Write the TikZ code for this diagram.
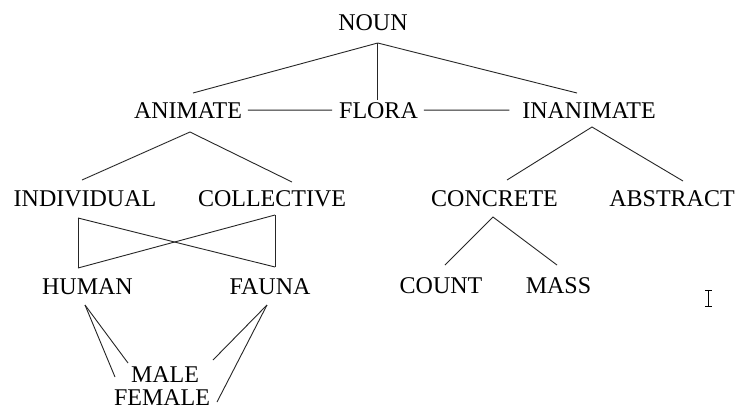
\documentclass[tikz,border=0pt]{standalone}
\usepackage{fontspec}
\setmainfont{Liberation Serif}
\begin{document}
\begin{tikzpicture}[x=1pt,y=-1pt,
  term/.style={inner sep=0pt,outer sep=0pt,anchor=base,text=black,
    font=\fontsize{24}{28}\selectfont},
  link/.style={draw=black!85,line width=0.9pt}]
\path[use as bounding box,fill=white] (0,0) rectangle (742,410);

% terms of the noun hierarchy
\node[term] (noun)       at (373,30)    {NOUN};
\node[term] (animate)    at (188,118)   {ANIMATE};
\node[term] (flora)      at (378.5,118) {FLORA};
\node[term] (inanimate)  at (589,118)   {INANIMATE};
\node[term] (individual) at (85,206)    {INDIVIDUAL};
\node[term] (collective) at (272,206)   {COLLECTIVE};
\node[term] (concrete)   at (494.5,206) {CONCRETE};
\node[term] (abstract)   at (672,206)   {ABSTRACT};
\node[term] (human)      at (87.5,294)  {HUMAN};
\node[term] (fauna)      at (270,294)   {FAUNA};
\node[term] (count)      at (441,293)   {COUNT};
\node[term] (mass)       at (558.5,293) {MASS};
\node[term] (male)       at (165,382)   {MALE};
\node[term] (female)     at (162,405.5) {FEMALE};

% NOUN branches
\draw[link] ([shift={(4.7,13)}]noun.base) -- ([shift={(5,-25)}]animate.base);
\draw[link] ([shift={(4.7,13)}]noun.base) -- ([shift={(-0.8,-18)}]flora.base);
\draw[link] ([shift={(4.7,13)}]noun.base) -- ([shift={(-12,-25)}]inanimate.base);

% horizontal links on the second row
\draw[link] ([xshift=6pt]animate.east) -- ([xshift=-7pt]flora.west);
\draw[link] ([xshift=6pt]flora.east) -- ([xshift=-13pt]inanimate.west);

% ANIMATE and INANIMATE branches
\draw[link] ([shift={(-3,-26)}]individual.base) -- ([shift={(2,14)}]animate.base)
            -- ([shift={(20,-24)}]collective.base);
\draw[link] ([shift={(12.5,-26)}]concrete.base) -- ([shift={(3,9)}]inanimate.base)
            -- ([shift={(11,-25)}]abstract.base);

% crossed links between the third and fourth rows
\draw[link] ([shift={(-7,12)}]individual.base) -- ([shift={(-9.5,-26)}]human.base);
\draw[link] ([shift={(-7,12)}]individual.base) -- ([shift={(5,-27)}]fauna.base);
\draw[link] ([shift={(3,9)}]collective.base) -- ([shift={(5,-27)}]fauna.base);
\draw[link] ([shift={(3,9)}]collective.base) -- ([shift={(-9.5,-26)}]human.base);

% CONCRETE branches
\draw[link] ([shift={(4,-28)}]count.base) -- ([shift={(-1.5,11)}]concrete.base)
            -- ([shift={(-1.5,-28)}]mass.base);

% HUMAN and FAUNA to MALE / FEMALE
\draw[link] ([shift={(-2.5,11)}]human.base) -- ([shift={(-37,-19)}]male.base);
\draw[link] ([shift={(-2.5,11)}]human.base) -- ([shift={(-47,-28.5)}]female.base);
\draw[link] ([shift={(-3,11)}]fauna.base) -- ([shift={(48,-22)}]male.base);
\draw[link] ([shift={(-3,11)}]fauna.base) -- ([shift={(55,-3.5)}]female.base);

% I-beam text cursor
\draw[black,line width=0.8pt] (708.5,290.5) -- (708.5,306)
  (705,290.5) -- (712,290.5) (705,306) -- (712,306);
\end{tikzpicture}
\end{document}
